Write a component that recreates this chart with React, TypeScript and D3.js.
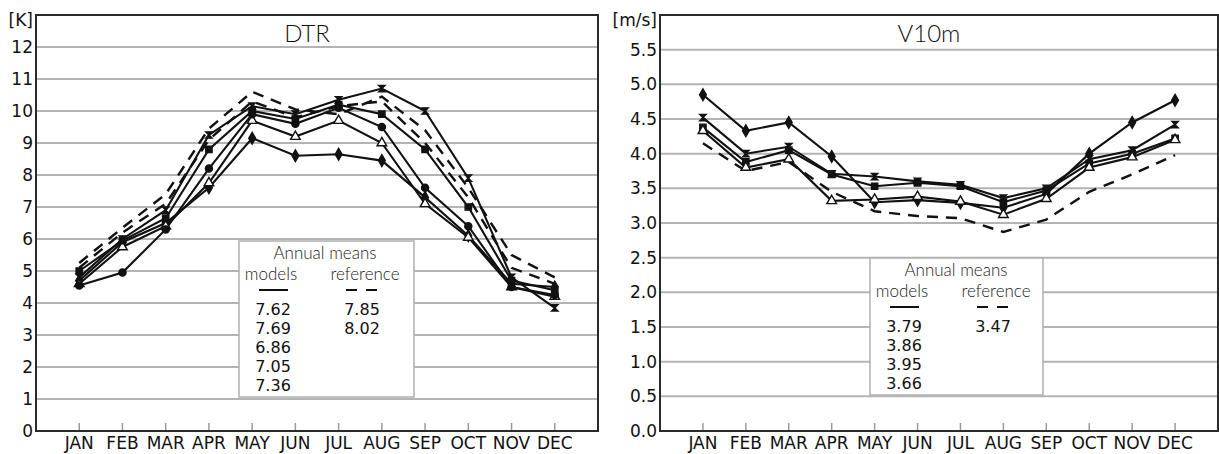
import React from 'react';
import * as d3 from 'd3';

const months = ['JAN', 'FEB', 'MAR', 'APR', 'MAY', 'JUN', 'JUL', 'AUG', 'SEP', 'OCT', 'NOV', 'DEC'];

// DTR [K]
const dtrModel1 = [4.7, 5.9, 6.5, 7.6, 9.15, 8.6, 8.65, 8.45, 7.3, 6.1, 4.6, 4.5];
const dtrModel2 = [4.6, 5.75, 6.4, 7.75, 9.7, 9.2, 9.7, 9.0, 7.1, 6.05, 4.5, 4.2];
const dtrModel3 = [4.8, 6.0, 6.9, 9.25, 10.15, 9.9, 10.35, 10.7, 10.0, 7.9, 4.8, 3.85];
const dtrModel4 = [5.0, 5.95, 6.65, 8.8, 10.0, 9.75, 10.2, 9.9, 8.8, 7.0, 4.7, 4.4];
const dtrModel5 = [4.55, 4.95, 6.3, 8.2, 9.9, 9.6, 10.1, 9.5, 7.6, 6.4, 4.5, 4.25];
const dtrRef1 = [5.25, 6.35, 7.4, 9.45, 10.6, 10.05, 9.9, 10.45, 9.4, 7.6, 5.5, 4.8];
const dtrRef2 = [5.1, 6.2, 7.1, 9.1, 10.3, 9.8, 10.15, 10.3, 9.0, 7.3, 5.1, 4.6];
const dtrTicks = [0, 1, 2, 3, 4, 5, 6, 7, 8, 9, 10, 11, 12];
const dtrModelMeans = ['7.62', '7.69', '6.86', '7.05', '7.36'];
const dtrRefMeans = ['7.85', '8.02'];

// V10m [m/s]
const vModel1 = [4.85, 4.33, 4.45, 3.96, 3.3, 3.33, 3.29, 3.22, 3.42, 4.0, 4.45, 4.77];
const vModel2 = [4.52, 4.0, 4.1, 3.71, 3.67, 3.6, 3.55, 3.36, 3.5, 3.92, 4.05, 4.42];
const vModel3 = [4.38, 3.88, 4.05, 3.7, 3.53, 3.58, 3.53, 3.3, 3.47, 3.86, 4.0, 4.22];
const vModel4 = [4.33, 3.8, 3.92, 3.32, 3.34, 3.38, 3.31, 3.12, 3.35, 3.8, 3.95, 4.2];
const vRef1 = [4.15, 3.75, 3.88, 3.45, 3.17, 3.1, 3.07, 2.87, 3.05, 3.45, 3.7, 3.98];
const vTicks = [0, 0.5, 1, 1.5, 2, 2.5, 3, 3.5, 4, 4.5, 5, 5.5];
const vModelMeans = ['3.79', '3.86', '3.95', '3.66'];
const vRefMeans = ['3.47'];

const FONT = '"DejaVu Sans", sans-serif';
const LIGHT = 'Lato, "Open Sans", sans-serif';

// bowtie marker (two triangles meeting at the centre)
const symbolBowtie = {
  draw(ctx: any, size: number) {
    const r = Math.sqrt(size) / 2;
    ctx.moveTo(-r, -r);
    ctx.lineTo(r, -r);
    ctx.lineTo(-r, r);
    ctx.lineTo(r, r);
    ctx.closePath();
  },
};

const markers = [
  { type: d3.symbolDiamond, fill: true },
  { type: d3.symbolTriangle, fill: false },
  { type: symbolBowtie, fill: true },
  { type: d3.symbolSquare, fill: true },
  { type: d3.symbolCircle, fill: true },
];

type PanelProps = {
  left: number;
  right: number;
  top: number;
  bottom: number;
  yMax: number;
  ticks: number[];
  fmt: (v: number) => string;
  title: string;
  unit: string;
  models: number[][];
  refs: number[][];
  markerOrder: number[];
  modelMeans: string[];
  refMeans: string[];
  box: { x: number; y: number; w: number; h: number };
};

function Panel(p: PanelProps) {
  const x = d3.scalePoint<string>().domain(months).range([p.left, p.right]).padding(1);
  const y = d3.scaleLinear().domain([0, p.yMax]).range([p.bottom, p.top]);
  const line = d3
    .line<number>()
    .x((_, i) => x(months[i]) as number)
    .y((d) => y(d));
  const mid = (p.left + p.right) / 2;
  const b = p.box;

  return (
    <g>
      <rect x={p.left} y={p.top} width={p.right - p.left} height={p.bottom - p.top} fill="#fff" />
      {p.ticks.map((t) =>
        t === 0 ? null : (
          <line key={t} x1={p.left} x2={p.right} y1={y(t)} y2={y(t)} stroke="#b4b4b4" strokeWidth={2} />
        )
      )}
      {months.map((m) => (
        <line key={m} x1={x(m)} x2={x(m)} y1={p.bottom} y2={p.bottom - 8} stroke="#9a9a9a" strokeWidth={1.5} />
      ))}

      {/* legend box sits on top of the grid */}
      <rect x={b.x} y={b.y} width={b.w} height={b.h} fill="#fff" stroke="#b0b0b0" strokeWidth={1.5} />

      {p.refs.map((r, i) => (
        <path key={'r' + i} d={line(r) || ''} fill="none" stroke="#111" strokeWidth={2.4} strokeDasharray="11,8" />
      ))}
      {p.models.map((s, i) => (
        <path key={'m' + i} d={line(s) || ''} fill="none" stroke="#111" strokeWidth={2.1} />
      ))}
      {p.models.map((s, i) => {
        const mk = markers[p.markerOrder[i]];
        const sym = d3.symbol().type(mk.type as any).size(40)();
        return s.map((v, j) => (
          <path
            key={i + '-' + j}
            d={sym || ''}
            transform={`translate(${x(months[j])},${y(v)})`}
            fill={mk.fill ? '#111' : '#fff'}
            stroke="#111"
            strokeWidth={1.4}
          />
        ));
      })}

      {/* legend text */}
      <g fontFamily={LIGHT} fontWeight={300} fontSize={17} fill="#222" textAnchor="middle">
        <text x={b.x + 86} y={b.y + 18}>Annual means</text>
        <text x={b.x + 32} y={b.y + 39}>models</text>
        <text x={b.x + 126} y={b.y + 39}>reference</text>
      </g>
      <g fontFamily={FONT} fontSize={16} fill="#111" textAnchor="middle">
        {p.modelMeans.map((v, i) => (
          <text key={v + i} x={b.x + 34} y={b.y + 74 + i * 19}>{v}</text>
        ))}
        {p.refMeans.map((v, i) => (
          <text key={v + i} x={b.x + 123} y={b.y + 74 + i * 19}>{v}</text>
        ))}
      </g>
      <line x1={b.x + 20} x2={b.x + 49} y1={b.y + 49} y2={b.y + 49} stroke="#111" strokeWidth={2} />
      <line x1={b.x + 107} x2={b.x + 138} y1={b.y + 49} y2={b.y + 49} stroke="#111" strokeWidth={2} strokeDasharray="11,9" />

      <rect x={p.left} y={p.top} width={p.right - p.left} height={p.bottom - p.top} fill="none" stroke="#2a2a2a" strokeWidth={2} />

      {/* axes */}
      <g fontFamily={FONT} fill="#111">
        {p.ticks.map((t) => (
          <text key={t} x={p.left - 3} y={y(t)} dy="0.36em" textAnchor="end" fontSize={17}>
            {p.fmt(t)}
          </text>
        ))}
        {months.map((m) => (
          <text key={m} x={x(m)} y={p.bottom + 18} textAnchor="middle" fontSize={17}>
            {m}
          </text>
        ))}
        <text x={p.left - 3} y={p.top + 11} textAnchor="end" fontSize={17}>{p.unit}</text>
      </g>
      <text x={mid - 10} y={p.top + 27} textAnchor="middle" fontFamily={LIGHT} fontWeight={300} fontSize={24} fill="#111">
        {p.title}
      </text>
    </g>
  );
}

export default function App() {
  return (
    <svg width={1219} height={454} style={{ position: 'absolute', left: 0, top: 0, background: '#fff' }}>
      <Panel
        left={36}
        right={598}
        top={15}
        bottom={431}
        yMax={13}
        ticks={dtrTicks}
        fmt={(v) => String(v)}
        title="DTR"
        unit="[K]"
        models={[dtrModel1, dtrModel2, dtrModel3, dtrModel4, dtrModel5]}
        refs={[dtrRef1, dtrRef2]}
        markerOrder={[0, 1, 2, 3, 4]}
        modelMeans={dtrModelMeans}
        refMeans={dtrRefMeans}
        box={{ x: 239, y: 241, w: 175, h: 156 }}
      />
      <Panel
        left={660}
        right={1218}
        top={15}
        bottom={431}
        yMax={6}
        ticks={vTicks}
        fmt={d3.format('.1f')}
        title="V10m"
        unit="[m/s]"
        models={[vModel1, vModel2, vModel3, vModel4]}
        refs={[vRef1]}
        markerOrder={[0, 2, 3, 1]}
        modelMeans={vModelMeans}
        refMeans={vRefMeans}
        box={{ x: 870, y: 258, w: 173, h: 137 }}
      />
    </svg>
  );
}
